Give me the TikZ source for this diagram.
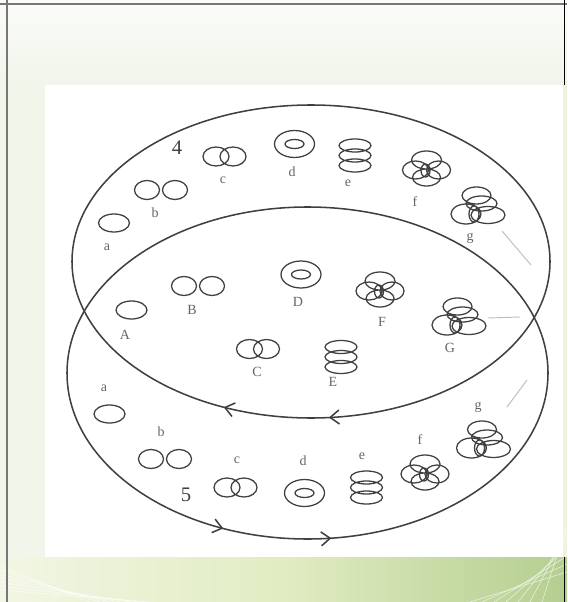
\documentclass[tikz,border=0pt]{standalone}
\usepackage{fontspec}
\setmainfont{Liberation Serif}
\definecolor{inkc}{HTML}{404040}
\definecolor{labc}{HTML}{666666}
\definecolor{framec}{HTML}{777777}
\definecolor{faintc}{HTML}{BDBDBD}
\definecolor{bgtop}{HTML}{FBFCF9}
\definecolor{bgleft}{HTML}{F1F5EA}
\definecolor{bandl}{HTML}{F2F6E4}
\definecolor{bandm}{HTML}{E1ECC2}
\definecolor{bandr}{HTML}{B4CE90}
\tikzset{
  ellline/.style={draw=inkc, line width=1.15pt},
  glyph/.style={draw=inkc, line width=0.95pt},
  lab/.style={text=labc, font=\fontsize{10.5}{11}\selectfont, inner sep=0pt},
  biglab/.style={text=inkc, font=\fontsize{15.5}{16}\selectfont, inner sep=0pt},
  faint/.style={draw=faintc, line width=0.7pt},
  framel/.style={draw=framec, line width=1.5pt},
  pics/onering/.style={code={\draw[glyph] (0,0) ellipse [x radius=15.5, y radius=9];}},
  pics/tworing/.style={code={\draw[glyph] (-14,0) ellipse [x radius=12.5, y radius=9.5] (14,0) ellipse [x radius=12.5, y radius=9.5];}},
  pics/linkring/.style={code={\draw[glyph] (-8.5,0) ellipse [x radius=13, y radius=9.5] (8.5,0) ellipse [x radius=13, y radius=9.5];}},
  pics/concring/.style={code={\draw[glyph] (0,0) ellipse [x radius=20, y radius=13.5] (0,0) ellipse [x radius=9.5, y radius=4.5];}},
  pics/stackring/.style={code={\draw[glyph] (0,-10) ellipse [x radius=16, y radius=6.5] (0,0) ellipse [x radius=16, y radius=6.5] (0,10) ellipse [x radius=16, y radius=6.5];}},
  pics/cloverring/.style={code={\draw[glyph] (0,-8.5) ellipse [x radius=15, y radius=9] (0,9) ellipse [x radius=14, y radius=8.5] (-11,1.5) ellipse [x radius=13, y radius=9] (12,1.5) ellipse [x radius=12, y radius=9] (-1,2) ellipse [x radius=4.5, y radius=6.5];}},
  pics/knotring/.style={code={\draw[glyph] (-2.5,-9.5) ellipse [x radius=14.5, y radius=8.5] (2.5,-1.5) ellipse [x radius=15.5, y radius=7.5] (-13,9) ellipse [x radius=15, y radius=10] (9,10) ellipse [x radius=17, y radius=8.5] (-5,9) ellipse [x radius=5, y radius=8];}},
}
\newcommand{\chevron}[6]{%
  \pgfmathsetmacro{\chpx}{#1+#3*cos(#5)}%
  \pgfmathsetmacro{\chpy}{#2+#4*sin(#5)}%
  \pgfmathsetmacro{\chtx}{-(#3/100)*sin(#5)*#6}%
  \pgfmathsetmacro{\chty}{(#4/100)*cos(#5)*#6}%
  \pgfmathsetmacro{\chn}{sqrt(\chtx*\chtx+\chty*\chty)}%
  \pgfmathsetmacro{\chux}{\chtx/\chn}%
  \pgfmathsetmacro{\chuy}{\chty/\chn}%
  \pgfmathsetmacro{\cax}{\chpx-9*\chux-7*\chuy}%
  \pgfmathsetmacro{\cay}{\chpy-9*\chuy+7*\chux}%
  \pgfmathsetmacro{\cbx}{\chpx-9*\chux+7*\chuy}%
  \pgfmathsetmacro{\cby}{\chpy-9*\chuy-7*\chux}%
  \draw[ellline] (\cax,\cay) -- (\chpx,\chpy) -- (\cbx,\cby);%
}
\begin{document}
\begin{tikzpicture}[x=0.75pt, y=-0.75pt]
\useasboundingbox (0,0) rectangle (567,602);
% background
\fill[bgtop] (0,0) rectangle (567,602);
\shade[top color=bgtop, bottom color=bgleft] (0,0) rectangle (567,85);
\fill[bgleft] (0,85) rectangle (45,557);
\fill[bandm!60!white] (563,85) rectangle (567,557);
\shade[left color=bandl, right color=bandr, middle color=bandm] (0,557) rectangle (567,602);
\foreach \k in {0,...,6} {
  \draw[white, opacity=0.6, line width=0.5pt] (0,{566+4*\k}) -- ({90+10*\k},602);
  \draw[white, opacity=0.6, line width=0.5pt] ({470+12*\k},602) -- (567,{572-8*\k});
}
% frame
\draw[framel] (0,4) -- (567,4);
\draw[framel] (7,0) -- (7,602);
\draw[black, line width=0.8pt] (564.5,0) -- (564.5,85);
\draw[black, line width=0.8pt] (564.5,557) -- (564.5,602);
% photo
\fill[white] (45,85) rectangle (563,557);
% big ellipses
\draw[ellline] (311,261.5) ellipse [x radius=239, y radius=156.5];
\draw[ellline] (307.5,373) ellipse [x radius=240.5, y radius=166];
\chevron{311}{261.5}{239}{156.5}{111.1}{1}
\chevron{311}{261.5}{239}{156.5}{85.4}{1}
\chevron{307.5}{373}{240.5}{166}{110.8}{-1}
\chevron{307.5}{373}{240.5}{166}{84.6}{-1}
% faint strokes
\coordinate (fa1) at (502,231); \coordinate (fa2) at (531,265);
\coordinate (fb1) at (488,318); \coordinate (fb2) at (520,317);
\coordinate (fc1) at (507,407); \coordinate (fc2) at (527,380);
\draw[faint] (fa1) -- (fa2);
\draw[faint] (fb1) -- (fb2);
\draw[faint] (fc1) -- (fc2);
% numbers
\node[biglab] (n4) at (177,148) {4};
\node[biglab] (n5) at (186,495) {5};
% upper ellipse glyphs
\pic (ua) at (114,223) {onering};
\pic (ub) at (161,190) {tworing};
\pic (uc) at (224.5,156.5) {linkring};
\pic (ud) at (294.5,144) {concring};
\pic (ue) at (355,155.5) {stackring};
\pic (uf) at (426.5,168.5) {cloverring};
\pic (ug) at (479,205) {knotring};
\node[lab] (la) at (107,247) {a};
\node[lab] (lb) at (155,213) {b};
\node[lab] (lc) at (223,180) {c};
\node[lab] (ld) at (292,172) {d};
\node[lab] (le) at (348,183) {e};
\node[lab] (lf) at (415,202) {f};
\node[lab] (lg) at (470,238) {g};
% middle glyphs
\pic (mA) at (131.5,310) {onering};
\pic (mB) at (198,286) {tworing};
\pic (mC) at (258,349) {linkring};
\pic (mD) at (301,274.5) {concring};
\pic (mE) at (341,357) {stackring};
\pic (mF) at (380,289.5) {cloverring};
\pic (mG) at (460,316) {knotring};
\node[lab] (lA) at (125,335) {A};
\node[lab] (lB) at (192,310) {B};
\node[lab] (lC) at (257,372) {C};
\node[lab] (lD) at (298,302) {D};
\node[lab] (lE) at (333,382) {E};
\node[lab] (lF) at (382,322) {F};
\node[lab] (lG) at (450,348) {G};
% lower ellipse glyphs
\pic (wa) at (109.5,414) {onering};
\pic (wb) at (165,459) {tworing};
\pic (wc) at (235.5,487.5) {linkring};
\pic (wd) at (304.5,493) {concring};
\pic (we) at (366.5,487.5) {stackring};
\pic (wf) at (425,472.5) {cloverring};
\pic (wg) at (484.5,439) {knotring};
\node[lab] (ma) at (104,388) {a};
\node[lab] (mb) at (161,432) {b};
\node[lab] (mc) at (237,460) {c};
\node[lab] (md) at (303,461) {d};
\node[lab] (me) at (362,456) {e};
\node[lab] (mf) at (420,440) {f};
\node[lab] (mg) at (478,407) {g};
\end{tikzpicture}
\end{document}
